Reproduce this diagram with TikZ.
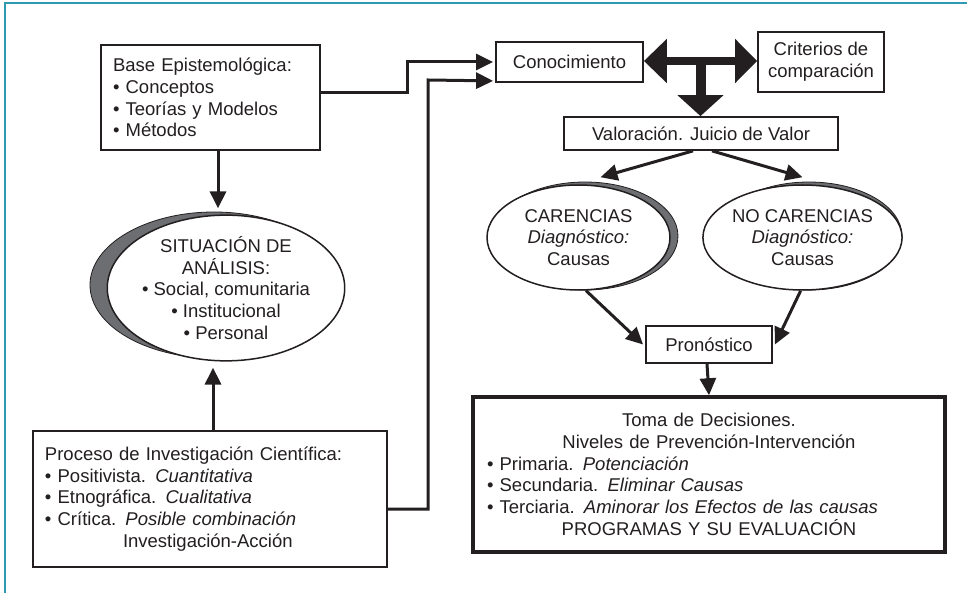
\documentclass[tikz,border=0pt]{standalone}
\usepackage{fontspec}
\setmainfont{Liberation Sans}
\usetikzlibrary{arrows.meta,shapes.geometric,calc}
\definecolor{ink}{HTML}{231F20}
\definecolor{shade}{HTML}{6D6E71}
\definecolor{framecol}{HTML}{2E9BB3}
\begin{document}
\begin{tikzpicture}[x=1pt,y=-1pt,
  font=\fontsize{18.5}{21.7}\selectfont,
  box/.style={draw=ink, line width=1.8pt, fill=white, inner sep=0pt, text=ink},
  oval/.style={ellipse, draw=ink, line width=1.5pt, fill=white, inner sep=0pt, align=center, text=ink},
  arr/.style={draw=ink, line width=3pt, -{Triangle[length=17pt,width=16pt]}},
  shadowfill/.style={fill=shade, draw=ink, line width=0.8pt}]
\useasboundingbox (0,0) rectangle (967,593);
\draw[framecol, line width=1.5pt] (5,593) -- (5,3) -- (967,3);

% shadows
\path[shadowfill] (214,285) ellipse [x radius=124, y radius=73];
\path[shadowfill] (585,236) ellipse [x radius=93, y radius=54];
\path[shadowfill] (809,236) ellipse [x radius=93, y radius=54];

% nodes
\node[box, minimum width=219pt, minimum height=105pt, text width=195pt, align=left] (base) at (210.5,97.5)
  {Base Epistemológica:\\• Conceptos\\• Teorías y Modelos\\• Métodos};
\node[box, minimum width=147pt, minimum height=40pt] (conoc) at (569.5,62) {Conocimiento};
\node[box, minimum width=126pt, minimum height=60pt, align=center] (crit) at (821,62) {Criterios de\\comparación};
\node[box, minimum width=274pt, minimum height=33pt] (val) at (701,133.5) {Valoración. Juicio de Valor};
\node[oval, minimum width=228pt, minimum height=140pt] (sit) at (226,288)
  {SITUACIÓN DE\\ANÁLISIS:\\• Social, comunitaria\\• Institucional\\• Personal};
\node[oval, minimum width=183pt, minimum height=105pt] (car) at (578.5,237.5)
  {CARENCIAS\\\textit{Diagnóstico:}\\Causas};
\node[oval, minimum width=181pt, minimum height=105pt] (nocar) at (802.5,237.5)
  {NO CARENCIAS\\\textit{Diagnóstico:}\\Causas};
\node[box, minimum width=126pt, minimum height=37pt] (pron) at (709,344.5) {Pronóstico};
\node[box, line width=3.5pt, minimum width=472pt, minimum height=155pt, text width=444pt, align=center] (toma) at (709,474.5)
  {Toma de Decisiones.\\
   Niveles de Prevención-Intervención\\
   \makebox[444pt][l]{• Primaria. \textit{Potenciación}}\\
   \makebox[444pt][l]{• Secundaria. \textit{Eliminar Causas}}\\
   \makebox[444pt][l]{• Terciaria. \textit{Aminorar los Efectos de las causas}}\\
   PROGRAMAS Y SU EVALUACIÓN};
\node[box, minimum width=354pt, minimum height=136pt, text width=330pt, align=left] (proc) at (210,499)
  {Proceso de Investigación Científica:\\
   • Positivista. \textit{Cuantitativa}\\
   • Etnográfica. \textit{Cualitativa}\\
   • Crítica. \textit{Posible combinación}\\
   \hspace*{78pt}Investigación-Acción};

% connectors
\draw[arr] ([xshift=7.5pt]base.south) -- ([xshift=-8pt,yshift=6pt]sit.north);
\draw[arr] ([xshift=3pt]proc.north) -- ([xshift=-13pt,yshift=-6pt]sit.south);
\draw[arr] ([yshift=4.5pt]base.east) -| (407,62) -- ([xshift=-2pt]conoc.west);
\draw[arr] ([yshift=-10pt]proc.east) -| (428,80) -- ([xshift=-2pt,yshift=2pt]conoc.south west);

\draw[ink, line width=8.5pt, {Triangle[length=23pt,width=43pt]}-{Triangle[length=22pt,width=43pt]}]
  ([yshift=1pt]conoc.east) -- ([yshift=1pt]crit.west);
\coordinate (junc) at ($(conoc.east)!0.5!(crit.west)$);
\draw[ink, line width=10pt, -{Triangle[length=21pt,width=45pt]}] ([yshift=4pt]junc) -- (val.north -| junc);

\draw[arr] ([xshift=-8pt]val.south) -- ([xshift=22pt,yshift=7pt]car.north);
\draw[arr] ([xshift=11pt]val.south) -- ([yshift=7pt]nocar.north);
\draw[arr] (car.-82) -- ([xshift=-2pt]pron.west);
\draw[arr] (nocar.-92) -- ([xshift=2pt]pron.east);
\draw[arr] ([xshift=-2pt]pron.south) -- (toma.north -| pron.south);
\end{tikzpicture}
\end{document}
